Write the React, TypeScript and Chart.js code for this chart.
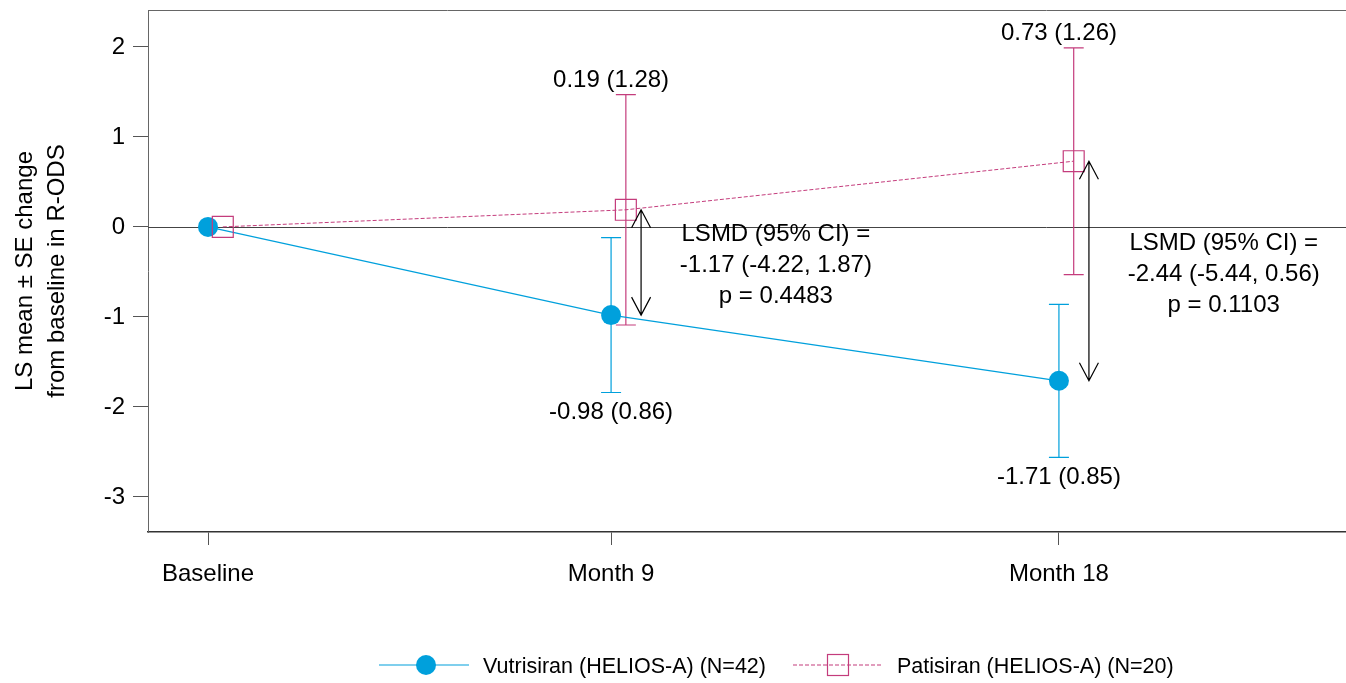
import React, { useEffect, useRef } from 'react';
import { Chart, registerables } from 'chart.js';

Chart.register(...registerables);

// ---- data ----
const xLabels = ['Baseline', 'Month 9', 'Month 18'];
const xPositions = [0, 9, 19];
const vutMean = [0, -0.98, -1.71];
const vutSE = [0, 0.86, 0.85];
const patMean = [0, 0.19, 0.73];
const patSE = [0, 1.28, 1.26];
const yTicks = [-3, -2, -1, 0, 1, 2];
const lsmdText = [
  ['LSMD (95% CI) =', '-1.17 (-4.22, 1.87)', 'p = 0.4483'],
  ['LSMD (95% CI) =', '-2.44 (-5.44, 0.56)', 'p = 0.1103'],
];
const vutLabel = 'Vutrisiran (HELIOS-A) (N=42)';
const patLabel = 'Patisiran (HELIOS-A) (N=20)';
const yTitle = ['LS mean \u00B1 SE change', 'from baseline in R-ODS'];

// ---- style ----
const FONT = '"Liberation Sans", Arial, sans-serif';
const BLUE = '#00a0dc';
const PINK = '#c43c7c';
const PAT_DODGE = 0.33;
const ARROW_DODGE = 0.67;
const NOTE_DODGE = 3.68;

const fmt = (m: number, s: number) => `${m.toFixed(2)} (${s.toFixed(2)})`;

const overlay = {
  id: 'overlay',
  beforeDatasetsDraw(chart: any) {
    const { ctx, chartArea: a, scales } = chart;
    const x = scales.x;
    const y = scales.y;
    ctx.save();
    // top frame line
    ctx.strokeStyle = '#666';
    ctx.lineWidth = 1;
    ctx.beginPath();
    ctx.moveTo(a.left, a.top + 0.5);
    ctx.lineTo(a.right, a.top + 0.5);
    ctx.stroke();
    // zero reference line
    const y0 = Math.round(y.getPixelForValue(0)) + 0.5;
    ctx.strokeStyle = '#444';
    ctx.beginPath();
    ctx.moveTo(a.left, y0);
    ctx.lineTo(a.right, y0);
    ctx.stroke();
    // error bars
    const drawErr = (dodge: number, means: number[], ses: number[], color: string) => {
      ctx.strokeStyle = color;
      ctx.lineWidth = 1.2;
      xPositions.forEach((xv, i) => {
        if (!ses[i]) return;
        const px = x.getPixelForValue(xv + dodge);
        const top = y.getPixelForValue(means[i] + ses[i]);
        const bot = y.getPixelForValue(means[i] - ses[i]);
        ctx.beginPath();
        ctx.moveTo(px, top);
        ctx.lineTo(px, bot);
        ctx.moveTo(px - 10, top);
        ctx.lineTo(px + 10, top);
        ctx.moveTo(px - 10, bot);
        ctx.lineTo(px + 10, bot);
        ctx.stroke();
      });
    };
    drawErr(0, vutMean, vutSE, BLUE);
    drawErr(PAT_DODGE, patMean, patSE, PINK);
    ctx.restore();
  },
  afterDatasetsDraw(chart: any) {
    const { ctx, scales } = chart;
    const x = scales.x;
    const y = scales.y;
    ctx.save();
    ctx.font = `24px ${FONT}`;
    ctx.fillStyle = '#000';
    ctx.textAlign = 'center';
    ctx.textBaseline = 'middle';
    // value labels
    xPositions.forEach((xv, i) => {
      if (!patSE[i]) return;
      const px = x.getPixelForValue(xv);
      ctx.fillText(fmt(patMean[i], patSE[i]), px, y.getPixelForValue(patMean[i] + patSE[i]) - 14);
      ctx.fillText(fmt(vutMean[i], vutSE[i]), px, y.getPixelForValue(vutMean[i] - vutSE[i]) + 20);
    });
    // arrows + LSMD notes
    ctx.strokeStyle = '#000';
    ctx.lineWidth = 1.2;
    [1, 2].forEach((i, k) => {
      const ax = x.getPixelForValue(xPositions[i] + ARROW_DODGE);
      const yTop = y.getPixelForValue(patMean[i]);
      const yBot = y.getPixelForValue(vutMean[i]);
      ctx.beginPath();
      ctx.moveTo(ax, yTop);
      ctx.lineTo(ax, yBot);
      ctx.moveTo(ax - 9.5, yTop + 18);
      ctx.lineTo(ax, yTop);
      ctx.lineTo(ax + 9.5, yTop + 18);
      ctx.moveTo(ax - 9.5, yBot - 18);
      ctx.lineTo(ax, yBot);
      ctx.lineTo(ax + 9.5, yBot - 18);
      ctx.stroke();
      const nx = x.getPixelForValue(xPositions[i] + NOTE_DODGE);
      const mid = y.getPixelForValue((patMean[i] + vutMean[i]) / 2) + 3;
      lsmdText[k].forEach((t, j) => {
        ctx.fillText(t, nx, mid + (j - 1) * 31);
      });
    });
    ctx.restore();
  },
  afterDraw(chart: any) {
    const { ctx, chartArea: a } = chart;
    ctx.save();
    // y title
    ctx.font = `24px ${FONT}`;
    ctx.fillStyle = '#000';
    ctx.textAlign = 'center';
    ctx.textBaseline = 'middle';
    const cy = (a.top + a.bottom) / 2;
    [25, 57].forEach((cx, j) => {
      ctx.save();
      ctx.translate(cx, cy);
      ctx.rotate(-Math.PI / 2);
      ctx.fillText(yTitle[j], 0, 0);
      ctx.restore();
    });
    // legend
    const ly = 665;
    ctx.font = `21.5px ${FONT}`;
    ctx.textAlign = 'left';
    ctx.strokeStyle = BLUE;
    ctx.lineWidth = 1.2;
    ctx.beginPath();
    ctx.moveTo(379, ly);
    ctx.lineTo(469, ly);
    ctx.stroke();
    ctx.fillStyle = BLUE;
    ctx.beginPath();
    ctx.arc(426, ly, 10, 0, Math.PI * 2);
    ctx.fill();
    ctx.fillStyle = '#000';
    ctx.fillText(vutLabel, 483, ly + 2);
    ctx.strokeStyle = PINK;
    ctx.setLineDash([4, 2]);
    ctx.beginPath();
    ctx.moveTo(793, ly);
    ctx.lineTo(883, ly);
    ctx.stroke();
    ctx.setLineDash([]);
    ctx.strokeRect(827.5, ly - 10.5, 21, 21);
    ctx.fillText(patLabel, 897, ly + 2);
    ctx.restore();
  },
};

export default function App() {
  const ref = useRef<HTMLCanvasElement>(null);
  useEffect(() => {
    if (!ref.current) return;
    const chart = new Chart(ref.current, {
      type: 'line',
      data: {
        datasets: [
          {
            label: patLabel,
            data: xPositions.map((xv, i) => ({ x: xv + PAT_DODGE, y: patMean[i] })),
            borderColor: PINK,
            borderWidth: 1,
            borderDash: [4, 2],
            pointStyle: 'rect',
            pointRadius: 14.8,
            pointBackgroundColor: 'rgba(0,0,0,0)',
            pointBorderColor: PINK,
            pointBorderWidth: 1.2,
            tension: 0,
            order: 0,
          },
          {
            label: vutLabel,
            data: xPositions.map((xv, i) => ({ x: xv, y: vutMean[i] })),
            borderColor: BLUE,
            borderWidth: 1.2,
            pointStyle: 'circle',
            pointRadius: 10,
            pointBackgroundColor: BLUE,
            pointBorderWidth: 0,
            tension: 0,
            order: 1,
          },
        ],
      },
      options: {
        animation: false,
        responsive: false,
        layout: { padding: { top: 10, right: 0, bottom: 0, left: 0 }, autoPadding: false },
        plugins: { legend: { display: false }, tooltip: { enabled: false } },
        scales: {
          x: {
            type: 'linear',
            min: -1.34,
            max: 25.41,
            afterFit: (s: any) => { s.height = 151; s.paddingLeft = 0; s.paddingRight = 0; },
            afterBuildTicks: (s: any) => { s.ticks = xPositions.map((v) => ({ value: v })); },
            ticks: {
              autoSkip: false,
              maxRotation: 0,
              padding: 15,
              color: '#000',
              font: { family: FONT, size: 24 },
              callback: (_v: any, i: number) => xLabels[i],
            },
            grid: { drawOnChartArea: false, tickLength: 13, color: '#555' },
            border: { display: true, color: '#333', width: 1.5 },
          },
          y: {
            type: 'linear',
            min: -3.39,
            max: 2.41,
            afterFit: (s: any) => { s.width = 148; s.paddingTop = 0; s.paddingBottom = 0; },
            afterBuildTicks: (s: any) => { s.ticks = yTicks.map((v) => ({ value: v })); },
            ticks: {
              padding: 8,
              color: '#000',
              font: { family: FONT, size: 24 },
              callback: (v: any) => String(v),
            },
            grid: { drawOnChartArea: false, tickLength: 15, color: '#555' },
            border: { display: true, color: '#666', width: 1 },
          },
        },
      },
      plugins: [overlay],
    });
    return () => chart.destroy();
  }, []);
  return (
    <div style={{ position: 'fixed', left: 0, top: 0, width: 1346, height: 683, background: '#fff' }}>
      <canvas ref={ref} width={1346} height={683} />
    </div>
  );
}
